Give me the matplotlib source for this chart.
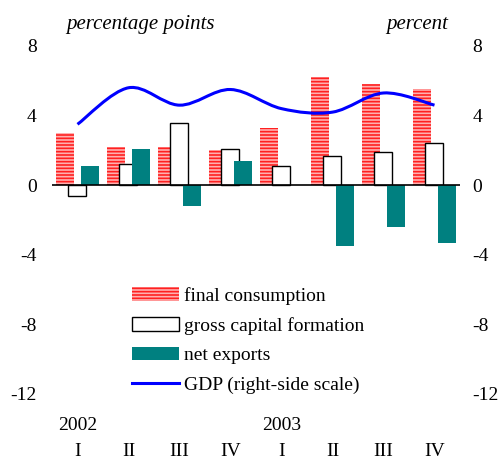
import matplotlib
matplotlib.use('Agg')
import matplotlib.pyplot as plt
from matplotlib.path import Path
from matplotlib.patches import PathPatch, Patch
from matplotlib.lines import Line2D
import matplotlib.transforms as mtransforms
import numpy as np

# data (percentage points / percent)
quarters = ['I', 'II', 'III', 'IV', 'I', 'II', 'III', 'IV']
years = ['2002', '2003']
final_consumption = [3.0, 2.2, 2.2, 2.0, 3.3, 6.2, 5.8, 5.5]
gross_capital = [-0.6, 1.2, 3.6, 2.1, 1.1, 1.7, 1.9, 2.4]
net_exports = [1.1, 2.1, -1.2, 1.4, 0.0, -3.5, -2.4, -3.3]
gdp = [3.5, 5.6, 4.6, 5.5, 4.4, 4.2, 5.3, 4.6]
yticks = [8, 4, 0, -4, -8, -12]

plt.rcParams['font.family'] = ['Liberation Serif', 'DejaVu Serif']
plt.rcParams['hatch.linewidth'] = 1.2

fig = plt.figure(figsize=(5.04, 4.59), dpi=100)
ax = fig.add_axes([52/504, 1-394/459, 408/504, 348/459])

x = np.arange(len(quarters))
w = 0.35
red = '#ff2020'
ax.bar(x - 0.245, final_consumption, w, color='#ffb0b0', edgecolor=red,
       hatch='-----', linewidth=0, zorder=2)
ax.bar(x - 0.01, gross_capital, w, color='white', edgecolor='black',
       linewidth=1, zorder=3)
ax.bar(x + 0.245, net_exports, w, color='#008080', linewidth=0, zorder=4)

# smoothed GDP line (Catmull-Rom -> cubic bezier, drawn by matplotlib)
pts = np.column_stack([x, gdp]).astype(float)
p = np.vstack([pts[0], pts, pts[-1]])
verts = [tuple(pts[0])]
codes = [Path.MOVETO]
for i in range(1, len(p) - 2):
    c1 = p[i] + (p[i+1] - p[i-1]) / 6
    c2 = p[i+1] - (p[i+2] - p[i]) / 6
    verts += [tuple(c1), tuple(c2), tuple(p[i+1])]
    codes += [Path.CURVE4] * 3
ax.add_patch(PathPatch(Path(verts, codes), facecolor='none', edgecolor='#0000ff',
                       linewidth=2.2, zorder=5))

ax.axhline(0, color='black', linewidth=1.2, zorder=6)
ax.set_xlim(-0.5, 7.5)
ax.set_ylim(-12, 8)
ax.set_yticks(yticks)
ax.set_yticklabels([str(v) for v in yticks])
ax.set_xticks(x)
ax.set_xticklabels(quarters)
ax.tick_params(axis='y', length=0, labelsize=14, pad=11)
ax.tick_params(axis='x', length=0, labelsize=14, pad=35)
for s in ax.spines.values():
    s.set_visible(False)

# right-side scale (same range)
ax2 = ax.twinx()
ax2.set_ylim(-12, 8)
ax2.set_yticks(yticks)
ax2.set_yticklabels([str(v) for v in yticks])
ax2.tick_params(axis='y', length=0, labelsize=14, pad=9)
for s in ax2.spines.values():
    s.set_visible(False)

trans = mtransforms.blended_transform_factory(ax.transData, ax.transAxes)
ax.text(0, -0.09, years[0], transform=trans, ha='center', va='center', fontsize=14)
ax.text(4, -0.09, years[1], transform=trans, ha='center', va='center', fontsize=14)

fig.text(140/504, 1-25/459, 'percentage points', style='italic', ha='center',
         va='center', fontsize=15)
fig.text(417/504, 1-25/459, 'percent', style='italic', ha='center',
         va='center', fontsize=15)

handles = [Patch(facecolor='#ffb0b0', edgecolor=red, hatch='-----', linewidth=0),
           Patch(facecolor='white', edgecolor='black', linewidth=1),
           Patch(facecolor='#008080', linewidth=0),
           Line2D([], [], color='#0000ff', linewidth=2.2)]
labels = ['final consumption', 'gross capital formation', 'net exports',
          'GDP (right-side scale)']
fig.legend(handles, labels, loc='upper left', bbox_to_anchor=(132/504, 1-287/459),
           frameon=False, fontsize=14, borderpad=0, borderaxespad=0,
           handlelength=2.4, handleheight=0.7, handletextpad=0.3, labelspacing=0.62)

fig.savefig('out.png', dpi=100)
